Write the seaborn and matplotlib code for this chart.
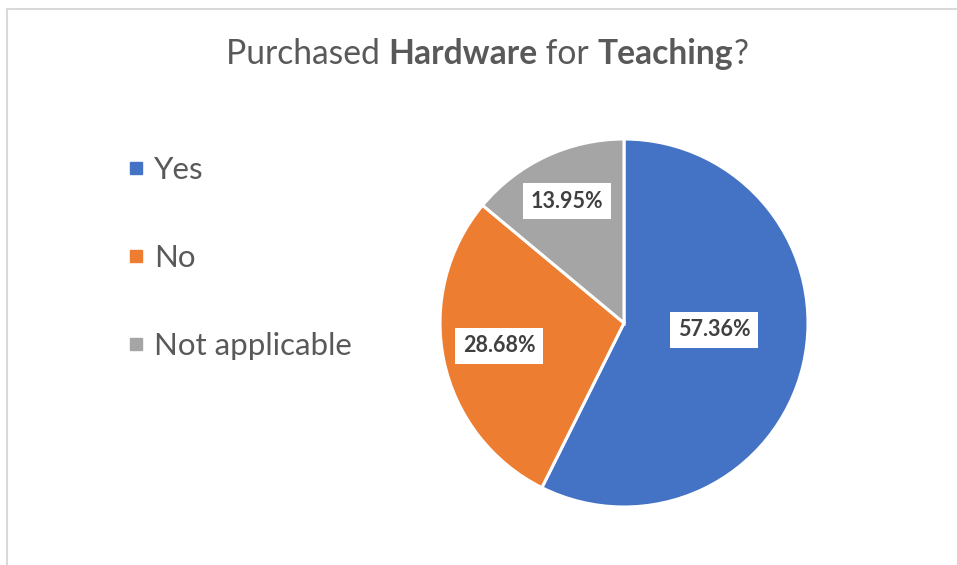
import matplotlib
matplotlib.use("Agg")
import numpy as np
import matplotlib.pyplot as plt
from matplotlib.lines import Line2D
import seaborn as sns

# data
categories = ["Yes", "No", "Not applicable"]
shares = [57.36, 28.68, 13.95]
title_parts = [("Purchased ", "normal"), ("Hardware", "bold"), (" for ", "normal"),
               ("Teaching", "bold"), ("?", "normal")]

sns.set_theme(style="white")
plt.rcParams["font.family"] = ["Lato", "DejaVu Sans"]

palette = ["#4472C4", "#ED7D31", "#A5A5A5"]
# label placement: (distance from centre, angle shift from wedge middle in degrees)
label_dist = [0.49, 0.69, 0.73]
label_shift = [9, -1.5, 0]

W, H = 957, 565
fig = plt.figure(figsize=(W / 100, H / 100), dpi=100)
fig.patch.set_facecolor("white")

# pie: centre ~ (624, 323) px, radius ~ 184 px
cx, cy, r = 624, 323, 184
ax = fig.add_axes([(cx - r) / W, (H - cy - r) / H, 2 * r / W, 2 * r / H])
wedges, _ = ax.pie(shares, colors=palette, startangle=90, counterclock=False,
                   wedgeprops=dict(edgecolor="white", linewidth=2.2))
ax.set_xlim(-1, 1)
ax.set_ylim(-1, 1)
for w in wedges:
    w.set_clip_on(False)

for w, pct, d, s in zip(wedges, shares, label_dist, label_shift):
    mid = np.deg2rad((w.theta1 + w.theta2) / 2 + s)
    ax.text(d * np.cos(mid), d * np.sin(mid), f"{pct:.2f}%", ha="center", va="center",
            fontsize=15.5, fontweight="bold", color="#404040",
            bbox=dict(facecolor="white", edgecolor="none", boxstyle="square,pad=0.35"))

# legend on the left
handles = [Line2D([], [], marker="s", linestyle="none", markersize=8.2,
                  markerfacecolor=c, markeredgecolor=c) for c in palette]
fig.legend(handles, categories, loc="center left", bbox_to_anchor=(126 / W, 1 - 258 / H),
           frameon=False, fontsize=22.5, labelcolor="#595959", handlelength=0.62,
           handletextpad=0.28, labelspacing=1.93, borderpad=0, borderaxespad=0)

# title with mixed weights
renderer = fig.canvas.get_renderer()
pieces = []
for txt, weight in title_parts:
    t = fig.text(0, 1 - 64 / H, txt, fontsize=24.2, fontweight=weight, color="#595959",
                 va="baseline", ha="left")
    pieces.append(t)
widths = [p.get_window_extent(renderer).width for p in pieces]
x = 487 - sum(widths) / 2
for p, wd in zip(pieces, widths):
    p.set_x(x / W)
    x += wd

# chart border (left and top visible in the crop)
fig.add_artist(Line2D([7 / W, 7 / W], [0, 1 - 9 / H], transform=fig.transFigure,
                      color="#D9D9D9", lw=1.5))
fig.add_artist(Line2D([7 / W, 1], [1 - 9 / H, 1 - 9 / H], transform=fig.transFigure,
                      color="#D9D9D9", lw=1.5))

fig.savefig("out.png", dpi=100, facecolor="white")
